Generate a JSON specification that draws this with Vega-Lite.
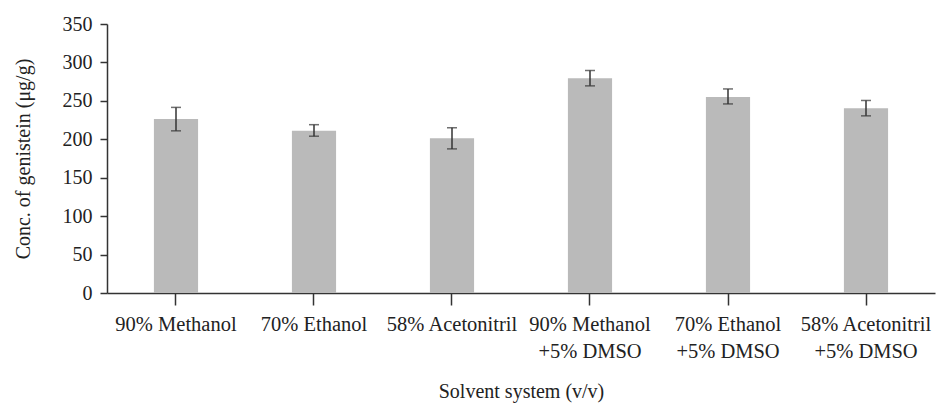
{
  "$schema": "https://vega.github.io/schema/vega-lite/v6.json",
  "description": "Concentration of genistein by solvent system, mean with error bars.",
  "autosize": "none",
  "padding": {"left": 107, "top": 24, "right": 1, "bottom": 113},
  "width": 828,
  "height": 269,
  "background": "white",
  "data": {
    "values": [
      {"solvent": "90% Methanol", "conc": 226.5, "lo": 211, "hi": 241.5},
      {"solvent": "70% Ethanol", "conc": 211, "lo": 204, "hi": 219},
      {"solvent": "58% Acetonitril", "conc": 201.5, "lo": 187.5, "hi": 215},
      {"solvent": "90% Methanol\n+5% DMSO", "conc": 279.5, "lo": 269.5, "hi": 289.5},
      {"solvent": "70% Ethanol\n+5% DMSO", "conc": 255, "lo": 246, "hi": 265.5},
      {"solvent": "58% Acetonitril\n+5% DMSO", "conc": 240.5, "lo": 230.5, "hi": 250.5}
    ]
  },
  "encoding": {
    "x": {
      "field": "solvent",
      "type": "nominal",
      "sort": null,
      "scale": {"paddingInner": 0.68, "paddingOuter": 0.34},
      "axis": {
        "title": "Solvent system (v/v)",
        "labelAngle": 0,
        "labelExpr": "split(datum.label, '\\n')",
        "labelFontSize": 20.5,
        "labelLineHeight": 27,
        "labelPadding": 9,
        "tickSize": 12,
        "titleY": 104,
        "titleBaseline": "alphabetic"
      }
    }
  },
  "layer": [
    {
      "mark": {"type": "bar", "color": "#bababa"},
      "encoding": {
        "y": {
          "field": "conc",
          "type": "quantitative",
          "scale": {"domain": [0, 350]},
          "axis": {
            "title": "Conc. of genistein (μg/g)",
            "values": [0, 50, 100, 150, 200, 250, 300, 350],
            "grid": false,
            "tickSize": 7,
            "labelPadding": 8,
            "titleX": -74,
            "titleBaseline": "bottom"
          }
        }
      }
    },
    {
      "mark": {"type": "rule", "color": "#333333", "strokeWidth": 1.5},
      "encoding": {
        "y": {
          "field": "lo",
          "type": "quantitative",
          "axis": {
            "title": "Conc. of genistein (μg/g)",
            "values": [0, 50, 100, 150, 200, 250, 300, 350],
            "grid": false,
            "tickSize": 7,
            "labelPadding": 8,
            "titleX": -74,
            "titleBaseline": "bottom"
          }
        },
        "y2": {"field": "hi"}
      }
    },
    {
      "mark": {"type": "tick", "color": "#333333", "size": 10, "thickness": 1.5},
      "encoding": {
        "y": {
          "field": "lo",
          "type": "quantitative",
          "axis": {
            "title": "Conc. of genistein (μg/g)",
            "values": [0, 50, 100, 150, 200, 250, 300, 350],
            "grid": false,
            "tickSize": 7,
            "labelPadding": 8,
            "titleX": -74,
            "titleBaseline": "bottom"
          }
        }
      }
    },
    {
      "mark": {"type": "tick", "color": "#333333", "size": 10, "thickness": 1.5},
      "encoding": {
        "y": {
          "field": "hi",
          "type": "quantitative",
          "axis": {
            "title": "Conc. of genistein (μg/g)",
            "values": [0, 50, 100, 150, 200, 250, 300, 350],
            "grid": false,
            "tickSize": 7,
            "labelPadding": 8,
            "titleX": -74,
            "titleBaseline": "bottom"
          }
        }
      }
    }
  ],
  "config": {
    "font": "Liberation Serif",
    "view": {"stroke": null},
    "axis": {
      "domainColor": "#333333",
      "domainWidth": 1.5,
      "tickColor": "#333333",
      "tickWidth": 1.5,
      "labelFont": "Liberation Serif",
      "labelFontSize": 20,
      "labelColor": "#222222",
      "titleFont": "Liberation Serif",
      "titleFontSize": 20,
      "titleFontWeight": "normal",
      "titleColor": "#222222",
      "labelOverlap": false,
      "labelBound": false
    }
  }
}
